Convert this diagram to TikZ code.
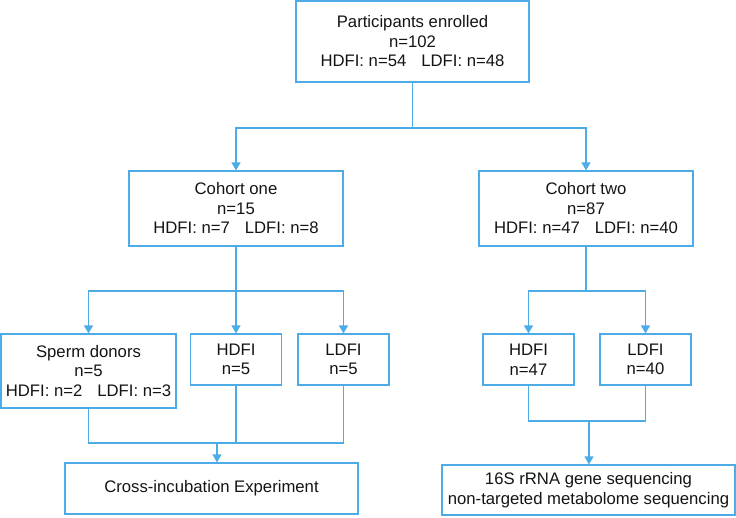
\documentclass[tikz,border=0pt]{standalone}
\usepackage{fontspec}
\setmainfont{Liberation Sans}
\usepackage{tikz}
\usetikzlibrary{arrows.meta}
\definecolor{flowblue}{RGB}{77,172,232}

\begin{document}
\begin{tikzpicture}[x=1pt,y=1pt,
        box/.style={draw=flowblue, line width=1.2pt, align=center, inner sep=0pt,
            font=\fontsize{16.7}{19.5}\selectfont, text=black!92},
        bigbox/.style={box, minimum width=214pt, minimum height=75pt},
        smallbox/.style={box, minimum width=91pt, minimum height=51pt},
        link/.style={draw=flowblue, line width=1.2pt},
        arr/.style={link, -{Triangle[width=9pt,length=8pt]}}]
        \useasboundingbox (0,0) rectangle (736,-517);

        % boxes
        % -----
        \node[box, minimum width=233pt, minimum height=81pt] (all) at (412.5,-41.5)
            {Participants enrolled\\n=102\\HDFI: n=54\hspace{0.9em}LDFI: n=48};
        \node[bigbox] (c1) at (236,-208.5)
            {Cohort one\\n=15\\HDFI: n=7\hspace{0.9em}LDFI: n=8};
        \node[bigbox] (c2) at (586,-208.5)
            {Cohort two\\n=87\\HDFI: n=47\hspace{0.9em}LDFI: n=40};

        % cohort one
        \node[box, minimum width=175pt, minimum height=74pt] (sd) at (88.5,-371)
            {Sperm donors\\n=5\\HDFI: n=2\hspace{0.9em}LDFI: n=3};
        \node[smallbox] (h1) at (236,-359.5) {HDFI\\n=5};
        \node[smallbox] (l1) at (343.5,-359.5) {LDFI\\n=5};
        \node[box, minimum width=293pt, minimum height=51pt] (cross) at (211.5,-488.5)
            {Cross-incubation Experiment};

        % cohort two
        \node[smallbox] (h2) at (528.5,-359.5) {HDFI\\n=47};
        \node[smallbox] (l2) at (645.5,-359.5) {LDFI\\n=40};
        \node[box, minimum width=293pt, minimum height=50pt] (seq) at (588.5,-490)
            {16S rRNA gene sequencing\\non-targeted metabolome sequencing};

        % junctions
        \coordinate (split) at (412.5,-128);
        \coordinate (c1j) at (236,-291);
        \coordinate (c1m) at (217,-443);
        \coordinate (c2j) at (588,-291);
        \coordinate (c2m) at (589,-421);

        % connectors
        \draw[link] (all.south) -- (split);
        \draw[arr] (split) -| (c1.north);
        \draw[arr] (split) -| (c2.north);

        \draw[link] (c1.south) -- (c1j);
        \foreach \b in {sd, h1, l1}
            \draw[arr] (c1j) -| (\b.north);
        \foreach \b in {sd, h1, l1}
            \draw[link] (\b.south) |- (c1m);
        \draw[arr] (c1m) -- (c1m |- cross.north);

        \draw[link] (c2.south) -- (c2.south |- c2j);
        \foreach \b in {h2, l2}
            \draw[arr] (c2j) -| (\b.north);
        \foreach \b in {h2, l2}
            \draw[link] (\b.south) |- (c2m);
        \draw[arr] (c2m) -- (c2m |- seq.north);

    \end{tikzpicture}
\end{document}
